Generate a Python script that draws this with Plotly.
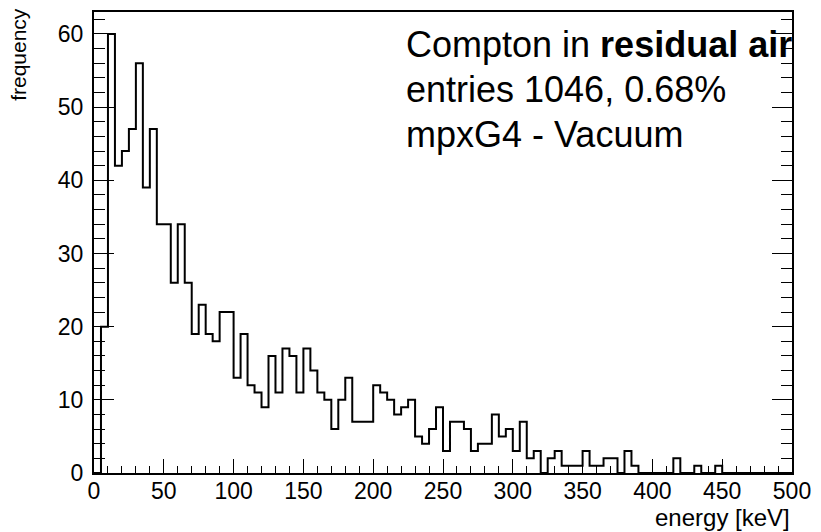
import plotly.graph_objects as go

# 5 keV bins from 0 to 500 keV
bin_width = 5
bin_edges = [i * bin_width for i in range(101)]
counts = [
    0, 20, 60, 42, 44, 47, 56, 39, 47, 34,
    34, 26, 34, 26, 19, 23, 19, 18, 22, 22,
    13, 19, 12, 11, 9, 16, 11, 17, 16, 11,
    17, 14, 11, 10, 6, 10, 13, 7, 7, 7,
    12, 11, 10, 8, 9, 10, 5, 4, 6, 9,
    3, 7, 7, 6, 3, 4, 4, 8, 5, 6,
    3, 7, 2, 3, 0, 2, 3, 1, 1, 1,
    3, 1, 1, 2, 2, 0, 3, 1, 0, 0,
    0, 0, 0, 2, 0, 0, 1, 0, 0, 1,
    0, 0, 0, 0, 0, 0, 0, 0, 0, 0,
]
x_ticks = [0, 50, 100, 150, 200, 250, 300, 350, 400, 450, 500]
y_ticks = [0, 10, 20, 30, 40, 50, 60]
info_lines = ["Compton in <b>residual air</b>", "entries 1046, 0.68%", "mpxG4 - Vacuum"]

# step outline: start at baseline, then each bin's level, close at last edge
xs = [bin_edges[0]] + bin_edges[:-1] + [bin_edges[-1]]
ys = [0] + counts + [counts[-1]]

FONT = "Liberation Sans, Arial, Helvetica, sans-serif"

fig = go.Figure()
fig.add_trace(go.Scatter(
    x=xs, y=ys, mode="lines", line=dict(shape="hv", color="black", width=2),
    hoverinfo="skip", showlegend=False,
))

annotations = []
for i, line in enumerate(info_lines):
    annotations.append(dict(
        text=line, xref="paper", yref="paper",
        x=(405 - 94) / 701, y=(473 - (43 + 45 * i)) / 463,
        xanchor="left", yanchor="middle", align="left", showarrow=False,
        font=dict(size=36, family=FONT, color="black")))
annotations += [
    dict(text="frequency", textangle=-90, xref="paper", yref="paper",
         x=(18 - 94) / 701, y=(473 - 4) / 463, xanchor="center", yanchor="top",
         showarrow=False, font=dict(size=21, family=FONT, color="black")),
    dict(text="energy [keV]", xref="paper", yref="paper",
         x=1.0, y=(473 - 502) / 463, xanchor="right", yanchor="top",
         showarrow=False, font=dict(size=24, family=FONT, color="black")),
]

fig.update_layout(
    width=821, height=532,
    margin=dict(l=94, r=26, t=10, b=59),
    paper_bgcolor="white", plot_bgcolor="white",
    font=dict(family=FONT, color="black"),
    xaxis=dict(
        range=[0, 500], tickvals=x_ticks, ticks="inside", ticklen=14, tickwidth=1,
        tickcolor="black", showline=True, linecolor="black", linewidth=2,
        mirror=True, showgrid=False, zeroline=False,
        tickfont=dict(size=23, family=FONT), ticklabelstandoff=-4,
        minor=dict(dtick=10, ticks="inside", ticklen=7, tickwidth=1, tickcolor="black", showgrid=False),
    ),
    yaxis=dict(
        range=[0, 63], tickvals=y_ticks, ticks="inside", ticklen=20, tickwidth=1,
        tickcolor="black", showline=True, linecolor="black", linewidth=2,
        mirror="ticks", showgrid=False, zeroline=False,
        tickfont=dict(size=23, family=FONT), ticklabelstandoff=4,
        minor=dict(dtick=2, ticks="inside", ticklen=11, tickwidth=1, tickcolor="black", showgrid=False),
    ),
    annotations=annotations,
)

fig.write_html("out.html")
